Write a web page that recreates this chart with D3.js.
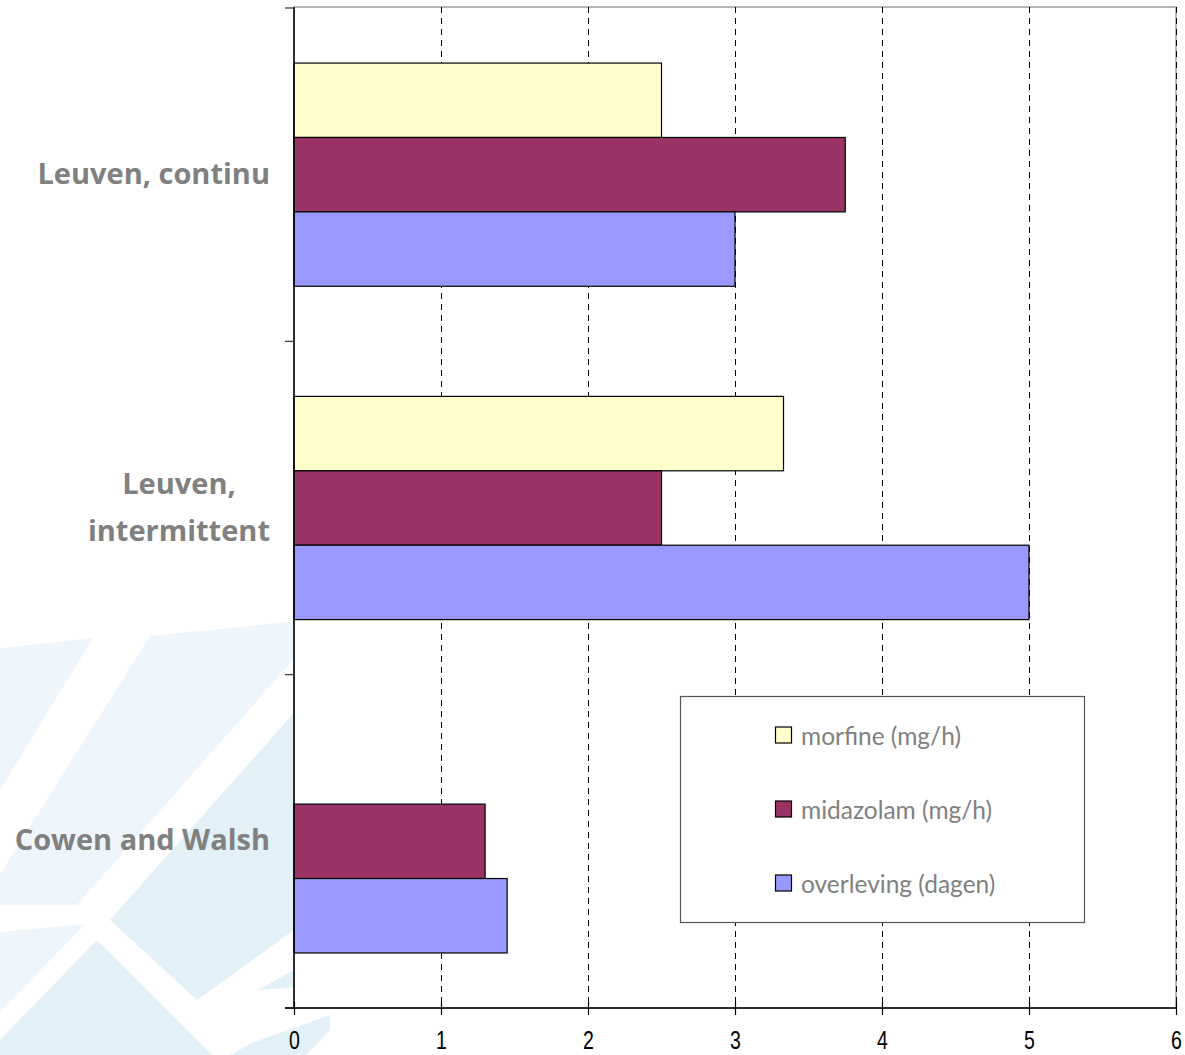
<!DOCTYPE html>
<html><head><meta charset="utf-8">
<script src="https://cdn.jsdelivr.net/npm/d3@7"></script>
<style>html,body{margin:0;padding:0;background:#fff;} svg{display:block}</style>
</head><body><svg id="chart" width="1185" height="1055"></svg>
<script>
// Data
const categories = ["Leuven, continu", "Leuven, intermittent", "Cowen and Walsh"];
const categoryLines = [["Leuven, continu"], ["Leuven,", "intermittent"], ["Cowen and Walsh"]];
const seriesNames = ["morfine (mg/h)", "midazolam (mg/h)", "overleving (dagen)"];
const morfine = [2.5, 3.33, null];
const midazolam = [3.75, 2.5, 1.3];
const overleving = [3.0, 5.0, 1.45];
const xTicks = [0, 1, 2, 3, 4, 5, 6];
const seriesColors = ["#ffffcc", "#993366", "#9999ff"];

const seriesValues = [morfine, midazolam, overleving];
const rows = categories.map((c, i) => ({
  category: c,
  values: seriesNames.map((s, j) => ({ series: s, value: seriesValues[j][i], color: seriesColors[j] }))
}));

const svg = d3.select("#chart");
const plot = { left: 294, right: 1176, top: 7, bottom: 1008 };

// Faint background logo shapes in the lower-left corner
const lightTiles = [
  [[0,648],[93,638],[0,790]],
  [[150,636],[330,618],[77,905],[0,905],[0,874]],
  [[0,932],[85,924],[0,1012]]
];
const darkTiles = [
  [[330,660],[330,905],[294,930],[197,1000],[110,920],[190,830],[294,713]],
  [[97,940],[212,1055],[0,1055],[0,1040]],
  [[258,990],[330,950],[330,980],[294,987]],
  [[252,1043],[330,1015],[330,1030],[306,1055],[230,1055]]
];
const bg = svg.append("g");
bg.selectAll("polygon.l").data(lightTiles).join("polygon").attr("class", "l")
  .attr("points", d => d.map(p => p.join(",")).join(" ")).attr("fill", "#eef6fb");
bg.selectAll("polygon.d").data(darkTiles).join("polygon").attr("class", "d")
  .attr("points", d => d.map(p => p.join(",")).join(" ")).attr("fill", "#e2f0f8");

// Scales
const x = d3.scaleLinear().domain([0, 6]).range([plot.left, plot.right]);
const y0 = d3.scaleBand().domain(categories).range([plot.top + 1, plot.bottom]).padding(0);
const y1 = d3.scaleBand().domain(seriesNames).range([0, y0.bandwidth()]).paddingInner(0).paddingOuter(0.74);

// Plot area
svg.append("rect").attr("x", plot.left).attr("y", plot.top)
  .attr("width", plot.right - plot.left).attr("height", plot.bottom - plot.top)
  .attr("fill", "#fff").attr("stroke", "#a0a0a0").attr("stroke-width", 1.5);

// Gridlines
svg.append("g").selectAll("line").data(xTicks.slice(1)).join("line")
  .attr("x1", d => Math.round(x(d)) + 0.5).attr("x2", d => Math.round(x(d)) + 0.5)
  .attr("y1", plot.top).attr("y2", plot.bottom)
  .attr("stroke", "#000").attr("stroke-width", 1).attr("stroke-dasharray", "6,5");

// Bars
const groups = svg.append("g").selectAll("g").data(rows).join("g")
  .attr("transform", d => `translate(0,${y0(d.category)})`);
groups.selectAll("rect").data(d => d.values.filter(v => v.value != null)).join("rect")
  .attr("x", x(0))
  .attr("y", d => y1(d.series))
  .attr("width", d => x(d.value) - x(0))
  .attr("height", y1.bandwidth())
  .attr("fill", d => d.color)
  .attr("stroke", "#000").attr("stroke-width", 1.2);

// Category axis (left)
const yAxis = svg.append("g").attr("transform", `translate(${plot.left},0)`);
yAxis.append("line").attr("x1", 0).attr("x2", 0).attr("y1", plot.top).attr("y2", plot.bottom)
  .attr("stroke", "#000").attr("stroke-width", 1.5);
const catEdges = categories.map(c => y0(c)).concat([plot.bottom]);
yAxis.selectAll("line.tick").data(catEdges).join("line").attr("class", "tick")
  .attr("x1", -9).attr("x2", 0).attr("y1", d => d).attr("y2", d => d)
  .attr("stroke", "#333").attr("stroke-width", 1.2);

// Value axis (bottom)
const xAxis = d3.axisBottom(x).tickValues(xTicks).tickFormat(d3.format("d")).tickSize(0).tickPadding(0);
const xg = svg.append("g").attr("transform", `translate(0,${plot.bottom})`).call(xAxis);
xg.select(".domain").remove();
xg.append("line").attr("x1", plot.left - 9).attr("x2", plot.right).attr("y1", 0).attr("y2", 0)
  .attr("stroke", "#000").attr("stroke-width", 1.5);
xg.selectAll(".tick line").remove();
xg.selectAll(".tick").append("line").attr("y1", -6).attr("y2", 7).attr("stroke", "#000").attr("stroke-width", 1.2);
xg.selectAll(".tick text").attr("y", 41).attr("dy", null)
  .attr("transform", "scale(0.78,1)")
  .attr("font-family", "'Liberation Sans Narrow', 'Arial Narrow', 'Liberation Sans', sans-serif")
  .attr("font-size", 25).attr("fill", "#000");

// Category labels
const labelFont = "'Open Sans', Lato, sans-serif";
categories.forEach((c, i) => {
  const lines = categoryLines[i];
  const cy = y0(c) + y0.bandwidth() / 2;
  const lineH = 47;
  const g = svg.append("g");
  const texts = lines.map((t, k) => g.append("text")
    .attr("y", cy + 9 + (k - (lines.length - 1) / 2) * lineH)
    .attr("font-family", labelFont).attr("font-weight", "bold").attr("font-size", 29)
    .attr("fill", "#808080").text(t));
  const maxW = d3.max(texts, t => t.node().getComputedTextLength());
  texts.forEach(t => t.attr("x", 270 - maxW / 2).attr("text-anchor", "middle"));
});

// Legend
const legend = svg.append("g");
legend.append("rect").attr("x", 680.5).attr("y", 696.5).attr("width", 404).attr("height", 226)
  .attr("fill", "#fff").attr("stroke", "#555").attr("stroke-width", 1.2);
seriesNames.forEach((s, i) => {
  const cy = 735 + i * 74;
  legend.append("rect").attr("x", 775.5).attr("y", cy - 8).attr("width", 16).attr("height", 16)
    .attr("fill", seriesColors[i]).attr("stroke", "#000").attr("stroke-width", 1.2);
  legend.append("text").attr("x", 801).attr("y", cy + 10)
    .attr("font-family", "Lato, sans-serif").attr("font-size", 24.5).attr("fill", "#808080").text(s);
});
</script></body></html>
